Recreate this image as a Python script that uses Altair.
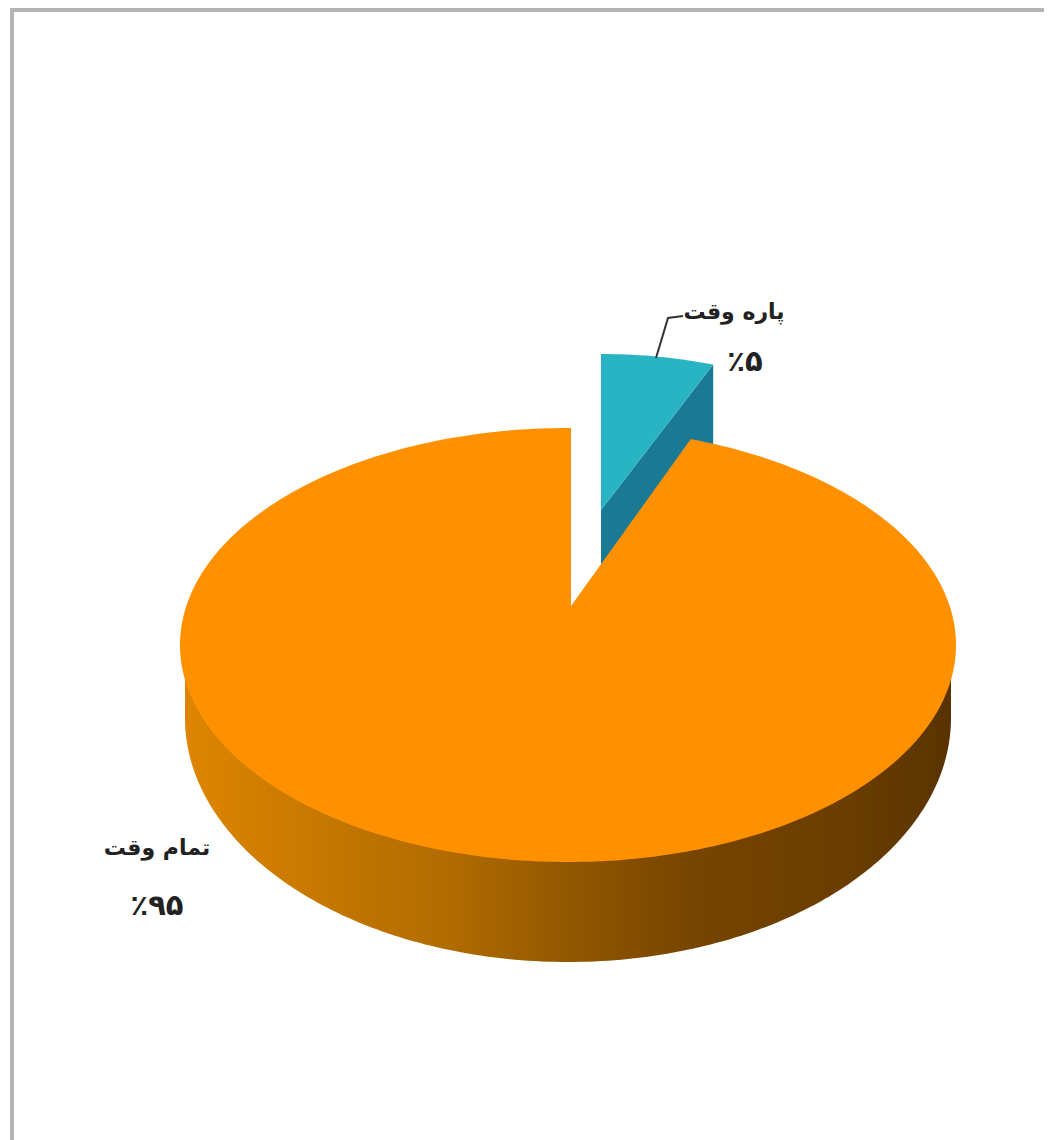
import math
import altair as alt
import pandas as pd

# Chart values
names = ["تمام وقت", "پاره وقت"]
shares = [95, 5]
share_labels = ["٪۹۵", "٪۵"]

# Colours
ORANGE = "#FF9100"
TEAL = "#29B4C4"
TEAL_DARK = "#1A7A96"
BORDER = "#B4B4B4"
INK = "#222222"

# Picture geometry of the tilted pie (page pixels as the scale's units)
CX, CY, RX, RY = 568, 645, 388, 217
BCX, BCY, BRX, BRY = 568, 718, 383, 244
APEX = (571, 606)
ROT = 0.44
EX_CX, EX_CY, EX_RX, EX_RY = 601, 571, 363, 217
EX_APEX_Y = 510
DEPTH = 100

X = alt.Scale(domain=[8, 1044], nice=False, zero=False)
Y = alt.Scale(domain=[8, 1140], nice=False, zero=False, reverse=True)


def xe(name):
    return alt.X(name, type="quantitative", scale=X, axis=None)


def ye(name):
    return alt.Y(name, type="quantitative", scale=Y, axis=None)


def half(x, cx, rx, ry):
    d = max(0.0, 1 - ((x - cx) / rx) ** 2)
    return ry * math.sqrt(d)


# Bottom wall of the pie
side_rows = []
for deg in range(0, 181):
    x = BCX - BRX * math.cos(math.radians(deg))
    side_rows.append({"x": x, "y": BCY + half(x, BCX, BRX, BRY), "y2": CY})
side = pd.DataFrame(side_rows)

# Large slice: the sweep follows its share
sweep_start = 360 * shares[1] / 100 + ROT
x_left = CX + RX * math.sin(math.radians(ROT))
x_right = CX + RX * math.sin(math.radians(sweep_start))
y_right = CY - half(x_right, CX, RX, RY)
top_rows = []
for deg in range(0, 181):
    x = CX - RX * math.cos(math.radians(deg))
    lo = CY + half(x, CX, RX, RY)
    if x_left < x < x_right:
        up = APEX[1] + (y_right - APEX[1]) * (x - x_left) / (x_right - x_left)
    else:
        up = CY - half(x, CX, RX, RY)
    top_rows.append({"x": x, "y": up, "y2": lo})
top_rows.append({"x": x_left, "y": CY - RY, "y2": CY + half(x_left, CX, RX, RY)})
top_rows.append({"x": x_left + 0.01, "y": APEX[1], "y2": CY + half(x_left, CX, RX, RY)})
top_rows.append({"x": x_right, "y": y_right, "y2": CY + half(x_right, CX, RX, RY)})
top = pd.DataFrame(top_rows).sort_values("x")

# Exploded slice: its sweep follows its share
ex_sweep = 360 * shares[1] / 100
ex_right_x = EX_CX + EX_RX * math.sin(math.radians(ex_sweep))
ex_right_y = EX_CY - EX_RY * math.cos(math.radians(ex_sweep))
ex_rows, ex_side_rows = [], []
for i in range(0, 19):
    t = ex_sweep * i / 18
    x = EX_CX + EX_RX * math.sin(math.radians(t))
    y = EX_CY - EX_RY * math.cos(math.radians(t))
    lower = EX_APEX_Y + (ex_right_y - EX_APEX_Y) * (x - EX_CX) / (ex_right_x - EX_CX)
    ex_rows.append({"x": x, "y": y, "y2": lower})
    ex_side_rows.append({"x": x, "y": lower, "y2": lower + DEPTH})
ex_top = pd.DataFrame(ex_rows)
ex_side = pd.DataFrame(ex_side_rows)

wall_fill = alt.Gradient(
    gradient="linear",
    x1=0, x2=1, y1=0, y2=0,
    stops=[
        alt.GradientStop(offset=0.0, color="#DE8500"),
        alt.GradientStop(offset=0.19, color="#C47700"),
        alt.GradientStop(offset=0.35, color="#B06B00"),
        alt.GradientStop(offset=0.49, color="#945900"),
        alt.GradientStop(offset=0.67, color="#754400"),
        alt.GradientStop(offset=0.87, color="#6A3D00"),
        alt.GradientStop(offset=1.0, color="#583300"),
    ],
)


def area(df, fill):
    return alt.Chart(df).mark_area(color=fill, interpolate="linear", clip=False).encode(
        x=xe("x"), y=ye("y"), y2=alt.Y2("y2")
    )


name_labels = pd.DataFrame({"text": names, "x": [157, 734], "y": [848, 312]})
share_text = pd.DataFrame({"text": share_labels, "x": [157, 745], "y": [906, 362]})
text_names = alt.Chart(name_labels).mark_text(
    font="DejaVu Sans", fontWeight="bold", fontSize=22, color=INK, align="center", baseline="middle"
).encode(x=xe("x"), y=ye("y"), text="text:N")
text_shares = alt.Chart(share_text).mark_text(
    font="DejaVu Sans", fontWeight="bold", fontSize=29, color=INK, align="center", baseline="middle"
).encode(x=xe("x"), y=ye("y"), text="text:N")

leader = alt.Chart(
    pd.DataFrame({"x": [656, 668, 683], "y": [358, 318, 316], "o": [0, 1, 2]})
).mark_line(color="#333333", strokeWidth=2).encode(x=xe("x"), y=ye("y"), order="o:Q")

border_top = alt.Chart(pd.DataFrame({"x": [10], "x2": [1044], "y": [10]})).mark_rule(
    color=BORDER, strokeWidth=4
).encode(x=xe("x"), x2="x2", y=ye("y"))
border_left = alt.Chart(pd.DataFrame({"x": [12], "y": [8], "y2": [1140]})).mark_rule(
    color=BORDER, strokeWidth=4
).encode(x=xe("x"), y=ye("y"), y2="y2")

chart = (
    alt.layer(
        border_top,
        border_left,
        area(ex_side, TEAL_DARK),
        area(ex_top, TEAL),
        area(side, wall_fill),
        area(top, ORANGE),
        leader,
        text_names,
        text_shares,
    )
    .properties(
        width=1036,
        height=1132,
        padding=0,
        autosize=alt.AutoSizeParams(type="none"),
        background="white",
    )
    .configure_view(stroke=None)
)

chart.save("out.html", embed_options={"renderer": "svg", "actions": False})
